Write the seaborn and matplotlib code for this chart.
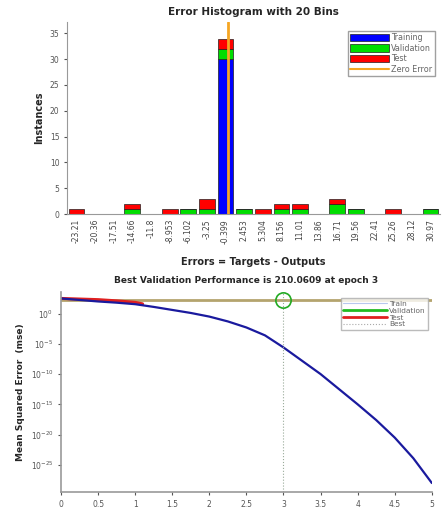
import numpy as np
import pandas as pd
import matplotlib
matplotlib.use("Agg")
import matplotlib.pyplot as plt
from matplotlib.lines import Line2D
from matplotlib.patches import Patch
import seaborn as sns

# ---------------- data: error histogram ----------------
bin_labels = ["-23.21", "-20.36", "-17.51", "-14.66", "-11.8", "-8.953", "-6.102",
              "-3.25", "-0.399", "2.453", "5.304", "8.156", "11.01", "13.86",
              "16.71", "19.56", "22.41", "25.26", "28.12", "30.97"]
train_counts = [0, 0, 0, 0, 0, 0, 0, 0, 30, 0, 0, 0, 0, 0, 0, 0, 0, 0, 0, 0]
val_counts   = [0, 0, 0, 1, 0, 0, 1, 1, 2, 1, 0, 1, 1, 0, 2, 1, 0, 0, 0, 1]
test_counts  = [1, 0, 0, 1, 0, 1, 0, 2, 2, 0, 1, 1, 1, 0, 1, 0, 0, 1, 0, 0]
zero_error = 0.0

# ---------------- data: performance curve ----------------
train_epochs = [0, 0.25, 0.5, 0.75, 1.0, 1.25, 1.5, 1.75, 2.0, 2.25, 2.5, 2.75,
                3.0, 3.25, 3.5, 3.75, 4.0, 4.25, 4.5, 4.75, 5.0]
train_log_mse = [2.5, 2.25, 2.0, 1.8, 1.55, 1.1, 0.6, 0.1, -0.5, -1.3, -2.3, -3.6,
                 -5.6, -7.8, -10.0, -12.5, -15.0, -17.6, -20.5, -23.9, -28.0]
test_epochs = [0, 0.25, 0.5, 0.75, 1.0, 1.1]
test_log_mse = [2.5, 2.4, 2.3, 2.1, 1.85, 1.6]
val_epochs = [0, 5]
val_mse = [210.0609, 210.0609]
best_epoch = 3
best_val = 210.0609

TAN = "#b4a46e"

fig = plt.figure(figsize=(4.42, 5.11), dpi=100)
sns.set_style("ticks")
plt.rcParams["font.family"] = ["DejaVu Sans"]

# ================= top: histogram =================
ax1 = fig.add_axes([0.152, 0.581, 0.843, 0.376])
df = pd.DataFrame({"bin": bin_labels, "train": train_counts,
                   "val": val_counts, "test": test_counts})
df["tv"] = df["train"] + df["val"]
sns.barplot(data=df, x="bin", y="train", order=bin_labels, color="#0000ff",
            edgecolor="#202020", linewidth=0.5, width=0.85, saturation=1, ax=ax1)
sns.barplot(data=df, x="bin", y="val", order=bin_labels, color="#00dd00",
            edgecolor="#202020", linewidth=0.5, width=0.85, saturation=1,
            bottom=df["train"].to_numpy(), ax=ax1)
sns.barplot(data=df, x="bin", y="test", order=bin_labels, color="#ff0000",
            edgecolor="#202020", linewidth=0.5, width=0.85, saturation=1,
            bottom=df["tv"].to_numpy(), ax=ax1)
# zero error line position in categorical coordinates
centers = np.array([float(s) for s in bin_labels])
zpos = np.interp(zero_error, centers, np.arange(len(centers)))
ax1.axvline(zpos, color="#f5a623", lw=2, zorder=5)

ax1.set_xlim(-0.5, len(bin_labels) - 0.5)
ax1.set_ylim(0, 37.2)
ax1.set_yticks([0, 5, 10, 15, 20, 25, 30, 35])
ax1.tick_params(axis="y", labelsize=5.5, colors="#555555", length=2)
ax1.tick_params(axis="x", labelsize=5.5, rotation=90, colors="#444444", length=0)
ax1.set_xlabel("Errors = Targets - Outputs", fontsize=7, fontweight="bold", labelpad=10)
ax1.set_ylabel("Instances", fontsize=7, fontweight="bold", labelpad=4)
ax1.set_title("Error Histogram with 20 Bins", fontsize=7.5, fontweight="bold", pad=5)
for s in ["top", "right"]:
    ax1.spines[s].set_visible(False)
for s in ["left", "bottom"]:
    ax1.spines[s].set_color("#999999")
handles1 = [Patch(facecolor="#0000ff", edgecolor="#202020", lw=0.5, label="Training"),
            Patch(facecolor="#00dd00", edgecolor="#202020", lw=0.5, label="Validation"),
            Patch(facecolor="#ff0000", edgecolor="#202020", lw=0.5, label="Test"),
            Line2D([], [], color="#f5a623", lw=1.5, label="Zero Error")]
leg1 = ax1.legend(handles=handles1, loc="upper right", fontsize=5.8, frameon=True,
                  fancybox=False, edgecolor="#888888", handlelength=4.8,
                  handleheight=1.0, labelspacing=0.2, borderpad=0.3,
                  handletextpad=0.3, bbox_to_anchor=(0.997, 0.975))
for t in leg1.get_texts():
    t.set_color("#666666")

# ================= bottom: performance =================
ax2 = fig.add_axes([0.138, 0.037, 0.839, 0.392])
perf_train = pd.DataFrame({"epoch": train_epochs, "mse": 10.0 ** np.array(train_log_mse)})
perf_test = pd.DataFrame({"epoch": test_epochs, "mse": 10.0 ** np.array(test_log_mse)})
perf_val = pd.DataFrame({"epoch": val_epochs, "mse": val_mse})

sns.lineplot(data=perf_val, x="epoch", y="mse", color=TAN, lw=2, ax=ax2)
sns.lineplot(data=perf_test, x="epoch", y="mse", color="#e02020", lw=2.2, ax=ax2)
sns.lineplot(data=perf_train, x="epoch", y="mse", color="#1a1a9e", lw=1.6, ax=ax2)
ax2.axvline(best_epoch, color="#99aa99", lw=0.8, ls=":")
ax2.plot([best_epoch], [best_val], marker="o", ms=11, mfc="none", mec="#22aa22",
         mew=1.2, zorder=6)
ax2.set_yscale("log")
ax2.set_xlim(0, 5)
ax2.set_ylim(10 ** -29.5, 10 ** 3.6)
ax2.set_xticks([0, 0.5, 1, 1.5, 2, 2.5, 3, 3.5, 4, 4.5, 5])
ax2.set_xticklabels(["0", "0.5", "1", "1.5", "2", "2.5", "3", "3.5", "4", "4.5", "5"])
ax2.set_yticks([1e0, 1e-5, 1e-10, 1e-15, 1e-20, 1e-25])
ax2.set_yticklabels([r"$10^{0}$", r"$10^{-5}$", r"$10^{-10}$", r"$10^{-15}$",
                     r"$10^{-20}$", r"$10^{-25}$"])
ax2.yaxis.set_minor_locator(matplotlib.ticker.NullLocator())
ax2.tick_params(axis="both", labelsize=5.5, colors="#555555", length=2)
ax2.set_xlabel("")
ax2.set_ylabel("Mean Squared Error  (mse)", fontsize=6.5, fontweight="bold", labelpad=4)
ax2.set_title("Best Validation Performance is 210.0609 at epoch 3", fontsize=6.5,
              fontweight="bold", pad=6)
for s in ["top", "right"]:
    ax2.spines[s].set_visible(False)
for s in ["left", "bottom"]:
    ax2.spines[s].set_color("#999999")
    ax2.spines[s].set_linewidth(1.2)
handles2 = [Line2D([], [], color="#b8c8ee", lw=0.8, label="Train"),
            Line2D([], [], color="#22bb22", lw=2, label="Validation"),
            Line2D([], [], color="#e02020", lw=2, label="Test"),
            Line2D([], [], color="#aaaaaa", lw=0.8, ls=":", label="Best")]
leg2 = ax2.legend(handles=handles2, loc="upper right", fontsize=5.3, frameon=True,
                  fancybox=False, edgecolor="#aaaaaa", handlelength=6,
                  labelspacing=0.1, borderpad=0.3, handletextpad=0.3,
                  bbox_to_anchor=(1.0, 0.985))
for t in leg2.get_texts():
    t.set_color("#666666")

fig.savefig("out.png", dpi=100)
